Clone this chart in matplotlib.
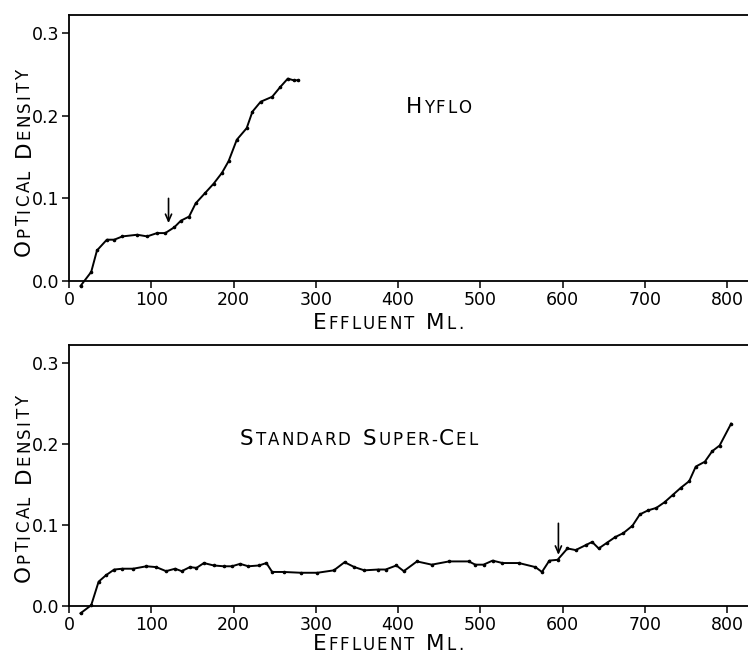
import math
import matplotlib
matplotlib.use('Agg')
import matplotlib.pyplot as plt
from matplotlib.transforms import IdentityTransform

# ---------------- data ----------------
hyflo_ml = [14, 27, 34, 46, 55, 65, 83, 95, 107, 117, 128, 136, 146, 154, 165,
            176, 186, 194, 204, 216, 223, 233, 247, 257, 266, 273, 279]
hyflo_od = [-0.006, 0.011, 0.037, 0.050, 0.050, 0.054, 0.056, 0.054, 0.058, 0.058,
            0.065, 0.073, 0.078, 0.094, 0.106, 0.118, 0.131, 0.145, 0.171, 0.185,
            0.205, 0.217, 0.223, 0.235, 0.245, 0.243, 0.243]

supercel_ml = [14, 27, 36, 45, 55, 65, 78, 94, 106, 118, 129, 137, 147, 155, 164,
               176, 188, 198, 208, 218, 231, 240, 247, 261, 282, 302, 322, 335, 347,
               359, 376, 385, 398, 407, 423, 441, 462, 486, 494, 504, 515, 527, 547,
               567, 575, 584, 594, 606, 616, 628, 636, 644, 654, 664, 674, 685, 694,
               704, 714, 724, 734, 744, 754, 762, 773, 782, 791, 805]
supercel_od = [-0.009, 0.001, 0.030, 0.038, 0.045, 0.046, 0.046, 0.049, 0.048, 0.043,
               0.046, 0.043, 0.048, 0.047, 0.053, 0.050, 0.049, 0.049, 0.052, 0.049,
               0.050, 0.053, 0.042, 0.042, 0.041, 0.041, 0.044, 0.054, 0.048, 0.044,
               0.045, 0.045, 0.050, 0.043, 0.055, 0.051, 0.055, 0.055, 0.051, 0.051,
               0.056, 0.053, 0.053, 0.048, 0.042, 0.056, 0.057, 0.071, 0.069, 0.075,
               0.079, 0.071, 0.078, 0.085, 0.090, 0.099, 0.113, 0.118, 0.121, 0.128,
               0.137, 0.146, 0.154, 0.172, 0.178, 0.191, 0.198, 0.225]

hyflo_arrow_ml = 121
hyflo_arrow_od = [0.100, 0.070]
supercel_arrow_ml = 595
supercel_arrow_od = [0.102, 0.063]

x_ticks = [0, 100, 200, 300, 400, 500, 600, 700, 800]
x_tick_labels = ['0', '100', '200', '300', '400', '500', '600', '700', '800']
y_ticks = [0.0, 0.1, 0.2, 0.3]
y_tick_labels = ['0.0', '0.1', '0.2', '0.3']

# ---------------- style ----------------
FONT = 'DejaVu Sans'
BIG, SMALL = 15.5, 12.0
TRACK = 2.0
W, H = 748, 658

fig = plt.figure(figsize=(W / 100, H / 100), dpi=100)
renderer = fig.canvas.get_renderer()


def char_width(ch, size):
    if ch == ' ':
        return size * 100 / 72 * 0.5
    t = fig.text(0, 0, ch, fontsize=size, family=FONT)
    w = t.get_window_extent(renderer).width
    t.remove()
    return w


def small_caps(xc, yb, s, rotation=0):
    """Draw s in small caps, centred at xc along the text direction, baseline yb (pixels)."""
    items = []
    for ch in s:
        size = BIG if ch.isupper() else SMALL
        items.append((ch.upper(), size, char_width(ch.upper(), size)))
    total = sum(w for _, _, w in items) + TRACK * (len(items) - 1)
    pos = -total / 2
    a = math.radians(rotation)
    for ch, size, w in items:
        if ch != ' ':
            fig.text(xc + pos * math.cos(a), yb + pos * math.sin(a), ch,
                     fontsize=size, family=FONT, rotation=rotation,
                     rotation_mode='anchor', ha='left', va='baseline',
                     transform=IdentityTransform(), color='black')
        pos += w + TRACK


def setup(ax):
    ax.set_xlim(0, 825.5)
    ax.set_ylim(0, 0.322)
    ax.set_xticks(x_ticks)
    ax.set_xticklabels(x_tick_labels)
    ax.set_yticks(y_ticks)
    ax.set_yticklabels(y_tick_labels)
    ax.tick_params(direction='out', length=5, width=1.1, labelsize=12.5, pad=2,
                   colors='black')
    for side in ('left', 'bottom', 'top'):
        ax.spines[side].set_linewidth(1.3)
    ax.spines['right'].set_visible(False)
    for lab in ax.get_xticklabels() + ax.get_yticklabels():
        lab.set_family(FONT)


# axes positions in pixels: x 69..748 ; top 15..281 ; bottom 345..606
ax1 = fig.add_axes([69 / W, (H - 281) / H, (W - 69) / W, 266 / H])
ax2 = fig.add_axes([69 / W, (H - 606) / H, (W - 69) / W, 261 / H])

for ax in (ax1, ax2):
    setup(ax)

ax1.plot(hyflo_ml, hyflo_od, color='black', lw=1.4, marker='o', ms=1.6,
         clip_on=False)
ax2.plot(supercel_ml, supercel_od, color='black', lw=1.4, marker='o', ms=1.6,
         clip_on=False)

arrow = dict(arrowstyle='->,head_length=0.5,head_width=0.22', lw=1.2, color='black',
             shrinkA=0, shrinkB=0)
ax1.annotate('', xy=(hyflo_arrow_ml, hyflo_arrow_od[1]),
             xytext=(hyflo_arrow_ml, hyflo_arrow_od[0]), arrowprops=arrow)
ax2.annotate('', xy=(supercel_arrow_ml, supercel_arrow_od[1]),
             xytext=(supercel_arrow_ml, supercel_arrow_od[0]), arrowprops=arrow)

fig.canvas.draw()


def to_px(ax, x, y):
    return ax.transData.transform((x, y))


def small_caps_left(ax, x, y, s):
    px, py = to_px(ax, x, y)
    items = [(ch.upper(), BIG if ch.isupper() else SMALL) for ch in s]
    total = sum(char_width(c, sz) for c, sz in items) + TRACK * (len(items) - 1)
    small_caps(px + total / 2, py, s)


small_caps_left(ax1, 409, 0.203, 'Hyflo')
small_caps_left(ax2, 208, 0.199, 'Standard Super-Cel')

# axis labels
small_caps(388, H - 329, 'Effluent Ml.')
small_caps(388, H - 650, 'Effluent Ml.')
small_caps(29.5, H - 163, 'Optical Density', rotation=90)
small_caps(29.5, H - 489, 'Optical Density', rotation=90)

fig.savefig('out.png', dpi=100, facecolor='white')
